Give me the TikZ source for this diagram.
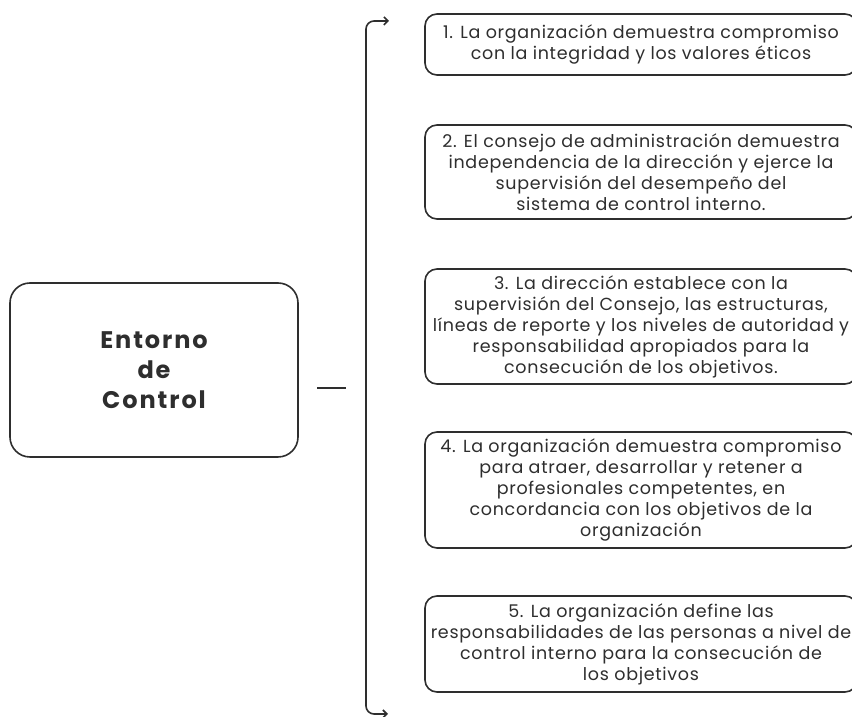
\documentclass[tikz,border=0pt]{standalone}
\usepackage{fontspec}
\setmainfont{Poppins}
\newfontfamily\itemfont[LetterSpace=4]{Poppins}
\newfontfamily\titlefont[LetterSpace=8]{Poppins}
\usetikzlibrary{arrows.meta}
\definecolor{inkgray}{HTML}{2E2E2E}
\tikzset{
  mainbox/.style={draw=inkgray, line width=1.6pt, rounded corners=20pt,
    minimum width=288pt, minimum height=174pt, align=center,
    font=\titlefont\fontsize{24}{30}\selectfont\bfseries, text=inkgray},
  itembox/.style={draw=inkgray, line width=1.6pt, rounded corners=12pt,
    minimum width=432pt, align=center,
    font=\itemfont\fontsize{17.5}{21}\selectfont, text=inkgray},
  bracket/.style={draw=inkgray, line width=1.6pt, rounded corners=8pt,
    {Straight Barb[length=4pt,width=8pt]}-{Straight Barb[length=4pt,width=8pt]}}
}
\begin{document}
\begin{tikzpicture}[x=1pt,y=1pt]
  \useasboundingbox (0,0) rectangle (852,717);
  \clip (0,0) rectangle (852,717);
  \fill[white] (0,0) rectangle (852,717);

  % left block
  \node[mainbox] (entorno) at (154,347) {Entorno\\ de\\ Control};

  % items
  \node[itembox, minimum height=61pt] (p1) at (641,672.5)
    {1. La organización demuestra compromiso\\ con la integridad y los valores éticos};
  \node[itembox, minimum height=94pt] (p2) at (641,545)
    {2. El consejo de administración demuestra\\ independencia de la dirección y ejerce la\\ supervisión del desempeño del\\ sistema de control interno.};
  \node[itembox, minimum height=115pt] (p3) at (641,390.5)
    {3. La dirección establece con la\\ supervisión del Consejo, las estructuras,\\ líneas de reporte y los niveles de autoridad y\\ responsabilidad apropiados para la\\ consecución de los objetivos.};
  \node[itembox, minimum height=116pt] (p4) at (641,227)
    {4. La organización demuestra compromiso\\ para atraer, desarrollar y retener a\\ profesionales competentes, en\\ concordancia con los objetivos de la\\ organización};
  \node[itembox, minimum height=96pt] (p5) at (641,73)
    {5. La organización define las\\ responsabilidades de las personas a nivel de\\ control interno para la consecución de\\ los objetivos};

  % dash and bracket
  \coordinate (dashL) at (317,329);
  \coordinate (dashR) at (346,329);
  \draw[inkgray, line width=1.6pt] (dashL) -- (dashR);

  \coordinate (brtop) at (389,696);
  \coordinate (brbot) at (388,3);
  \coordinate (brx) at (366,0);
  \draw[bracket] (brtop) -| (brbot -| brx) -- (brbot);
\end{tikzpicture}
\end{document}
